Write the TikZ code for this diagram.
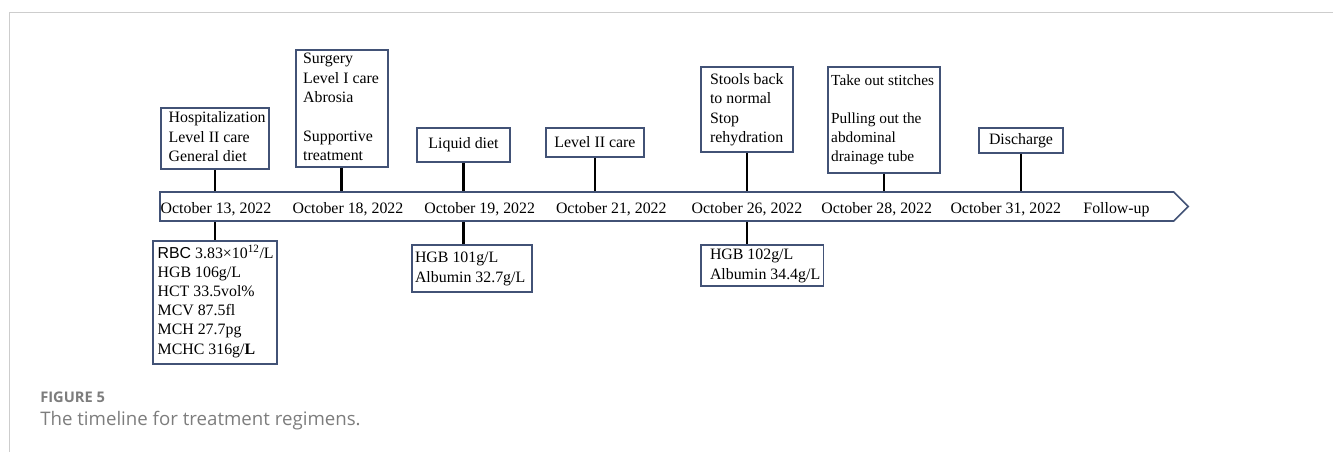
\documentclass[tikz,border=0pt]{standalone}
\usepackage{fontspec}
\setmainfont{Liberation Serif}
\setsansfont{Liberation Sans}
\newfontfamily\capfont{Open Sans}
\usetikzlibrary{shapes.symbols}
\definecolor{boxc}{RGB}{66,82,118}
\definecolor{framec}{RGB}{205,205,205}
\definecolor{capc}{RGB}{125,125,125}
\newcommand{\leftblock}[2]{\makebox[#1][l]{\begin{tabular}{@{}l@{}}#2\end{tabular}}}
\newcommand{\bodyfont}{\fontsize{11.9}{14.6}\selectfont}
\begin{document}
\begin{tikzpicture}[x=0.75pt,y=-0.75pt,
  box/.style={draw=boxc, line width=1.25pt, fill=white, inner ysep=0pt, font=\bodyfont},
  conn/.style={draw=black, line width=1.9pt},
  datelbl/.style={font=\bodyfont, anchor=base, inner sep=0pt},
  framel/.style={draw=framec, line width=0.8pt}]
\useasboundingbox (0,0) rectangle (1333,452);
% frame
\draw[framel] (9.5,452) -- (9.5,12.5) -- (1333,12.5);
% timeline bar
\node[signal, signal to=east, draw=boxc, line width=1.3pt, fill=white,
  minimum width=771.2pt, minimum height=21.75pt, inner sep=0pt] (bar) at (666.85,206.5) {};
% date labels
\node[datelbl] (d13) at (216,213.3) {October 13, 2022};
\node[datelbl] (d18) at (348,213.3) {October 18, 2022};
\node[datelbl] (d19) at (479.7,213.3) {October 19, 2022};
\node[datelbl] (d21) at (611.3,213.3) {October 21, 2022};
\node[datelbl] (d26) at (747,213.3) {October 26, 2022};
\node[datelbl] (d28) at (876.7,213.3) {October 28, 2022};
\node[datelbl] (d31) at (1005.8,213.3) {October 31, 2022};
\node[datelbl] (fu) at (1116.5,213.3) {Follow-up};
% upper boxes
\node[box, minimum width=81.2pt, minimum height=45.75pt, inner xsep=6pt] (hosp) at (214.85,138.5)
  {\leftblock{69.2pt}{Hospitalization\\Level II care\\General diet}};
\node[box, minimum width=69pt, minimum height=87.5pt, inner xsep=5.6pt] (surg) at (341.7,108.35)
  {\leftblock{57.8pt}{Surgery\\Level I care\\Abrosia\\ \\Supportive\\treatment}};
\node[box, minimum width=69.75pt, minimum height=25.5pt, inner xsep=0pt] (liq) at (463.5,145) {Liquid diet};
\node[box, minimum width=73.5pt, minimum height=21.75pt, inner xsep=0pt] (lvl) at (595,142.5) {Level II care};
\node[box, minimum width=69.2pt, minimum height=63.75pt, inner xsep=7pt] (stool) at (746.85,109.5)
  {\leftblock{55.2pt}{Stools back\\to normal\\Stop\\rehydration}};
\node[box, minimum width=84.2pt, minimum height=79.3pt, inner xsep=2.6pt, font=\fontsize{11.5}{14.3}\selectfont] (stitch) at (883.85,119.85)
  {\leftblock{79pt}{Take out stitches\\ \\Pulling out the\\abdominal\\drainage tube}};
\node[box, minimum width=63pt, minimum height=18.5pt, inner xsep=0pt] (disc) at (1021,140.35) {Discharge};
% lower boxes
\node[box, minimum width=93pt, minimum height=92.5pt, inner xsep=3.75pt, font=\fontsize{11.9}{14.4}\selectfont] (rbc) at (214.7,302.35)
  {\leftblock{85.5pt}{{\sffamily RBC} 3.83×10\textsuperscript{12}/L\\HGB 106g/L\\HCT 33.5vol\%\\MCV 87.5fl\\MCH 27.7pg\\MCHC 316g/\textbf{L}}};
\node[box, minimum width=90pt, minimum height=35.5pt, inner xsep=2.5pt] (hgba) at (471.7,268.65)
  {\leftblock{85pt}{HGB 101g/L\\Albumin 32.7g/L}};
\node[box, minimum width=92pt, minimum height=30.75pt, inner xsep=7pt] (hgbb) at (762,265.5)
  {\leftblock{78pt}{HGB 102g/L\\Albumin 34.4g/L}};
% connectors above
\foreach \n in {hosp,surg,liq,lvl,stool,stitch,disc}
  \draw[conn] (\n.south) -- (\n.south |- bar.north);
% connectors below
\draw[conn] (hosp.south |- bar.south) -- (hosp.south |- rbc.north);
\draw[conn] (liq.south |- bar.south) -- (liq.south |- hgba.north);
\draw[conn] (stool.south |- bar.south) -- (stool.south |- hgbb.north);
% caption
\node[anchor=base west, inner sep=0pt, text=capc, font=\capfont\bfseries\fontsize{11}{13}\selectfont] (figlbl) at (40,402.7) {FIGURE 5};
\node[anchor=base west, inner sep=0pt, text=capc, font=\capfont\fontsize{14}{17}\selectfont] (figcap) at (40,425.5) {The timeline for treatment regimens.};
\end{tikzpicture}
\end{document}
